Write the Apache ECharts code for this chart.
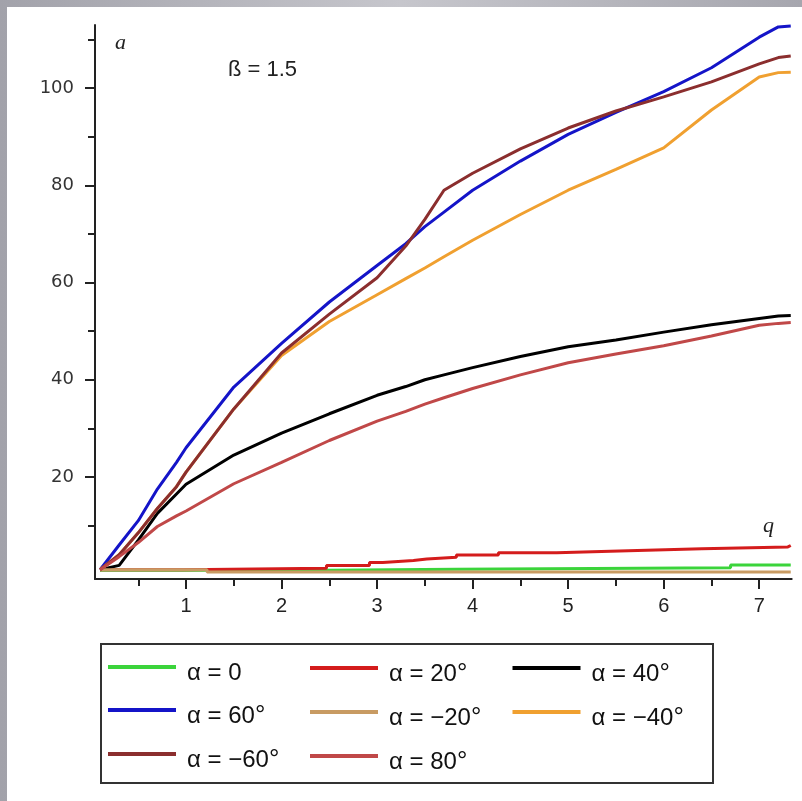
<!DOCTYPE html>
<html><head><meta charset="utf-8">
<script src="https://cdn.jsdelivr.net/npm/echarts@6/dist/echarts.min.js"></script>
<style>
html,body{margin:0;padding:0;width:802px;height:801px;overflow:hidden;
background:linear-gradient(90deg,#a2a2aa 0%,#c6c6cc 50%,#a6a6ae 100%);}
#c{position:absolute;left:7px;top:7px;width:795px;height:794px;background:#fff;}
</style>
</head><body><div id="c"></div>
<script>
// shared q grid for the smooth curves
const qGrid = [0.1,0.3,0.5,0.7,0.9,1,1.5,2,2.5,3,3.3,3.5,3.7,4,4.5,5,5.5,6,6.5,7,7.2,7.33];
const a60  = [0.9,6,11,17.5,23,26,38.5,47.5,56,63.5,68,71.5,74.5,79,85,90.5,95,99.3,104.2,110.5,112.6,112.8];
const aM60 = [0.9,4,8.5,13.5,18,21,34,45.5,53.5,61,67.5,73,79,82.5,87.5,91.8,95.3,98.2,101.3,105,106.3,106.6];
const aM40 = [0.9,4,8.5,13.5,18,21,34,45,52,57.5,60.8,63,65.3,68.7,74,79,83.3,87.7,95.5,102.3,103.2,103.3];
const a40  = [0.9,1.8,7,12.5,16.5,18.5,24.5,29,33,36.8,38.6,40,41,42.5,44.8,46.8,48.2,49.8,51.3,52.6,53.1,53.2];
const a80  = [0.9,3.6,6.5,9.8,12,13,18.6,23,27.5,31.5,33.5,35,36.3,38.2,41,43.5,45.3,47,49,51.2,51.6,51.8];
// stepped curves near zero
const a20Q = [0.1,0.97,2.47,2.92,3.06,3.38,3.52,3.83,4.27,4.88,5.63,6.4,7.3,7.33];
const a20  = [0.9,1.2,1.8,2.4,2.8,3.1,3.5,3.95,4.4,4.8,5.2,5.6,5.9,5.9];
const a0Q  = [0.1,2.47,3.83,6.7,7.33];
const a0   = [0.8,1.0,1.3,1.9,1.9];
const aM20Q = [0.1,1.22,7.33];
const aM20  = [0.9,0.45,0.45];
// axis ticks
const xMinorTicks = [0.5,1.5,2.5,3.5,4.5,5.5,6.5];
const xMajorTicks = [1,2,3,4,5,6,7];
const yMinorTicks = [10,30,50,70,90,110];
const yMajorTicks = [20,40,60,80,100];
// legend names (series order)
const names = ['α = 0','α = 20°','α = 40°','α = 60°','α = −20°','α = −40°','α = −60°','α = 80°'];

function pairs(xs, ys){ return xs.map((x,i)=>[x, ys[i]]); }
const defs = [
  {name:names[0], q:a0Q,  v:a0,   color:'#3bd43b', step:'end'},
  {name:names[1], q:a20Q, v:a20,  color:'#d41c1c', step:'end'},
  {name:names[2], q:qGrid,v:a40,  color:'#000000'},
  {name:names[3], q:qGrid,v:a60,  color:'#1414c8'},
  {name:names[4], q:aM20Q,v:aM20, color:'#c89b63', step:'end'},
  {name:names[5], q:qGrid,v:aM40, color:'#f0a030'},
  {name:names[6], q:qGrid,v:aM60, color:'#8b2e2e'},
  {name:names[7], q:qGrid,v:a80,  color:'#c04848'}
];
const series = defs.map(d => ({
  name:d.name, type:'line', data:pairs(d.q,d.v), xAxisIndex:0, yAxisIndex:0,
  step:d.step||false, showSymbol:false, symbol:'none', color:d.color,
  lineStyle:{color:d.color, width:3}, itemStyle:{color:d.color, borderWidth:0},
  animation:false
}));

const XMIN=0.047, XMAX=7.34, YMIN=-1, YMAX=113;
const axisCol = '#222';
const legendFmt = n => n.endsWith('°') ? '{a|'+n.slice(0,-1)+'}{d|°}' : '{a|'+n+'}';
const legendCommon = {
  orient:'vertical', padding:0, itemGap:18, itemWidth:68, itemHeight:4, icon:'rect',
  itemStyle:{borderWidth:0}, selectedMode:false, top:654,
  formatter: legendFmt,
  textStyle:{fontFamily:'Liberation Sans', fontSize:24, color:'#111', padding:[12,0,0,6],
    rich:{a:{fontFamily:'Liberation Sans', fontSize:24, lineHeight:26, color:'#111'},
          d:{fontFamily:'Liberation Sans', fontSize:26, lineHeight:26, color:'#111'}}}
};

const option = {
  animation:false,
  backgroundColor:'#ffffff',
  grid:{left:88, top:18, right:10.3, bottom:222, containLabel:false},
  xAxis:[
    {type:'value', min:XMIN, max:XMAX, position:'bottom',
     axisLine:{show:true, onZero:false, lineStyle:{color:axisCol, width:2}},
     axisTick:{show:true, customValues:xMinorTicks, length:7, lineStyle:{color:axisCol, width:2}},
     axisLabel:{show:false}, splitLine:{show:false}},
    {type:'value', min:XMIN, max:XMAX, position:'bottom',
     axisLine:{show:false, onZero:false},
     axisTick:{show:true, customValues:xMajorTicks, length:10, lineStyle:{color:axisCol, width:2}},
     axisLabel:{show:true, customValues:xMajorTicks, margin:17, fontFamily:'Liberation Sans', fontSize:20, color:'#222'},
     splitLine:{show:false}}
  ],
  yAxis:[
    {type:'value', min:YMIN, max:YMAX, position:'left',
     axisLine:{show:true, onZero:false, lineStyle:{color:axisCol, width:2}},
     axisTick:{show:true, customValues:yMinorTicks, length:7, lineStyle:{color:axisCol, width:2}},
     axisLabel:{show:false}, splitLine:{show:false}},
    {type:'value', min:YMIN, max:YMAX, position:'left',
     axisLine:{show:false, onZero:false},
     axisTick:{show:true, customValues:yMajorTicks, length:10, lineStyle:{color:axisCol, width:2}},
     axisLabel:{show:true, customValues:yMajorTicks, margin:21, fontFamily:'DejaVu Sans', fontSize:18, color:'#333'},
     splitLine:{show:false}}
  ],
  legend:[
    Object.assign({}, legendCommon, {left:101, data:[names[0],names[3],names[6]]}),
    Object.assign({}, legendCommon, {left:303, data:[names[1],names[4],names[7]]}),
    Object.assign({}, legendCommon, {left:505.5, data:[names[2],names[5]]})
  ],
  graphic:[
    {type:'rect', shape:{x:94, y:637, width:612, height:139}, style:{fill:'none', stroke:'#333', lineWidth:2}, silent:true},
    {type:'text', x:108, y:36, style:{text:'a', font:'italic 22px "Liberation Serif"', fill:'#222', verticalAlign:'middle'}, silent:true},
    {type:'text', x:221, y:63, style:{text:'ß = 1.5', font:'22px "Liberation Sans"', fill:'#222', verticalAlign:'middle'}, silent:true},
    {type:'text', x:756, y:519, style:{text:'q', font:'italic 22px "Liberation Serif"', fill:'#222', verticalAlign:'middle'}, silent:true}
  ],
  series: series
};
const chart = echarts.init(document.getElementById('c'));
chart.setOption(option);
</script>
</body></html>
